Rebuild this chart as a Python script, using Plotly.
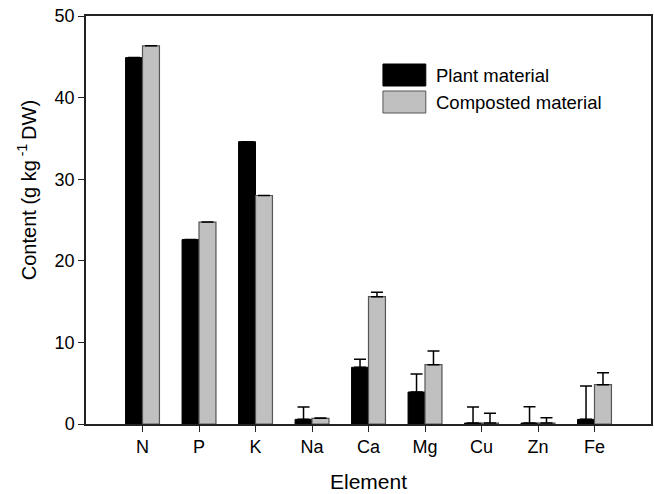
import plotly.graph_objects as go

elements = ["N", "P", "K", "Na", "Ca", "Mg", "Cu", "Zn", "Fe"]
plant = [44.9, 22.6, 34.6, 0.57, 6.95, 3.92, 0.12, 0.12, 0.57]
plant_err = [0, 0, 0, 1.5, 0.98, 2.2, 1.95, 2.0, 4.1]
compost = [46.35, 24.75, 28.0, 0.7, 15.6, 7.27, 0.12, 0.12, 4.82]
compost_err = [0, 0, 0, 0.05, 0.54, 1.68, 1.2, 0.65, 1.47]
series_names = ["Plant material", "Composted material"]
y_ticks = [0, 10, 20, 30, 40, 50]
x_title = "Element"
y_title = "Content (g kg<sup> -1 </sup>DW)"

FONT = "Liberation Sans, Arial, sans-serif"
AX = "#222222"

fig = go.Figure()
fig.add_trace(go.Bar(
    x=elements, y=plant, name=series_names[0],
    marker=dict(color="#000000", line=dict(color="#000000", width=1)),
    error_y=dict(type="data", array=plant_err, arrayminus=[0]*len(plant_err),
                 symmetric=False, color="#000000", thickness=1.5, width=6),
))
fig.add_trace(go.Bar(
    x=elements, y=compost, name=series_names[1],
    marker=dict(color="#c0c0c0", line=dict(color="#555555", width=1.2)),
    error_y=dict(type="data", array=compost_err, arrayminus=[0]*len(compost_err),
                 symmetric=False, color="#000000", thickness=1.5, width=6),
))

plot_l, plot_r, plot_t, plot_b = 86, 653, 16, 424
def px_x(p):
    return (p - plot_l) / (plot_r - plot_l)
def px_y(p):
    return (plot_b - p) / (plot_b - plot_t)

# custom legend (boxes + labels)
legend_rows = [(series_names[0], "#000000", "#000000", 0),
               (series_names[1], "#c0c0c0", "#555555", 1)]
for name, fill, line, i in legend_rows:
    top = 64 + i * 27
    bot = top + 22
    fig.add_shape(type="rect", xref="paper", yref="paper",
                  x0=px_x(384), x1=px_x(427), y0=px_y(bot), y1=px_y(top),
                  fillcolor=fill, line=dict(color=line, width=1))
    fig.add_annotation(xref="paper", yref="paper", x=px_x(435), y=px_y((top + bot) / 2),
                       text=name, showarrow=False, xanchor="left", yanchor="middle",
                       font=dict(family=FONT, size=18.5, color="#000000"))

# axis titles
fig.add_annotation(xref="paper", yref="paper", x=px_x(369.5), y=px_y(481),
                   text=x_title, showarrow=False, xanchor="center", yanchor="middle",
                   font=dict(family=FONT, size=21, color="#000000"))
fig.add_annotation(xref="paper", yref="paper", x=px_x(26), y=px_y(190),
                   text=y_title, showarrow=False, textangle=-90,
                   xanchor="center", yanchor="middle",
                   font=dict(family=FONT, size=20, color="#000000"))

fig.update_layout(
    width=655, height=494,
    margin=dict(l=86, r=2, t=16, b=70),
    paper_bgcolor="white", plot_bgcolor="white",
    barmode="group", bargap=0.4, bargroupgap=0,
    showlegend=False,
    font=dict(family=FONT, size=18, color="#000000"),
)
fig.update_xaxes(
    range=[-1, 9], showline=True, linecolor=AX, linewidth=1.5, mirror=True,
    ticks="outside", ticklen=6, tickcolor=AX, tickwidth=1.2,
    showgrid=False, zeroline=False,
    tickfont=dict(family=FONT, size=18),
)
fig.update_yaxes(
    range=[0, 50], tickvals=y_ticks, showline=True, linecolor=AX, linewidth=1.5, mirror=True,
    ticks="outside", ticklen=6, tickcolor=AX, tickwidth=1.2,
    showgrid=False, zeroline=False,
    tickfont=dict(family=FONT, size=18),
)
fig.write_html("out.html")
